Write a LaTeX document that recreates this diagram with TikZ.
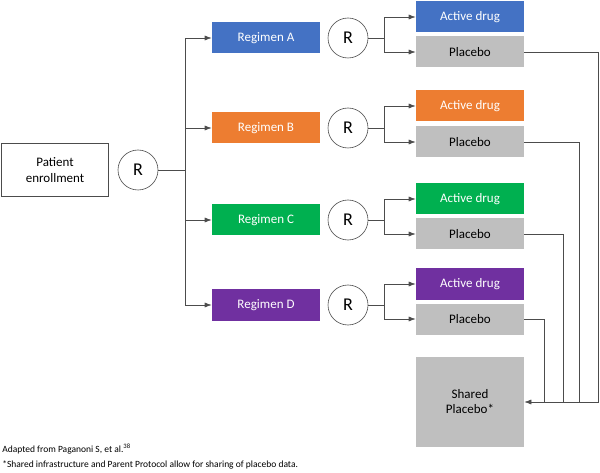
\documentclass[tikz,border=0pt]{standalone}
\usepackage{fontspec}
\setmainfont{Carlito}
\usetikzlibrary{arrows.meta}
\tikzset{every picture/.style={line width=0.75pt}}
\tikzset{
  box/.style={minimum width=108pt,minimum height=31pt,inner sep=0pt,font=\fontsize{13}{15}\selectfont},
  reg/.style={box,fill=#1,text=white},
  plac/.style={box,fill=gray!50},
  rnd/.style={circle,draw,minimum size=40pt,inner sep=0pt,font=\fontsize{18}{20}\selectfont},
  arr/.style={-{Latex[length=7pt,width=5pt]}}
}
\definecolor{cA}{HTML}{4472C4}
\definecolor{cB}{HTML}{ED7D31}
\definecolor{cC}{HTML}{00B050}
\definecolor{cD}{HTML}{7030A0}
\begin{document}
\begin{tikzpicture}[x=1pt,y=1pt,yscale=-1,xscale=1,line width=0.6pt,draw=black!70]
	\useasboundingbox (0,0) rectangle (600,473);

	% Enrollment
	\node [draw,minimum width=107pt,minimum height=53pt,align=center,font=\fontsize{13}{16}\selectfont] (enrol) at (55,170) {Patient\\enrollment};
	\node [rnd] (r0) at (138,170) {R};
	\coordinate (trunk) at (185,170);
	\draw (r0) -- (trunk);

	% Regimens
	\foreach \n/\c/\y/\ya/\yp in {A/cA/38/17/52, B/cB/128/106/142, C/cC/220/199/234, D/cD/305/284/319} {
		\node [reg=\c] (reg\n) at (266,\y) {Regimen \n};
		\node [rnd] (r\n) at (348,\y) {R};
		\node [reg=\c] (act\n) at (470,\ya) {Active drug};
		\node [plac] (pla\n) at (470,\yp) {Placebo};
		\draw [arr] (trunk) |- (reg\n);
		\draw (r\n) -- (384,\y) coordinate (br\n);
		\draw [arr] (br\n) |- (act\n);
		\draw [arr] (br\n) |- (pla\n);
	}

	% Shared placebo
	\node [plac,minimum height=90pt,align=center] (shared) at (470,402) {Shared\\Placebo*};
	\draw [arr] (plaA) -- (598,52) |- (shared);
	\draw (plaB) -| (579,402);
	\draw (plaC) -| (563,402);
	\draw (plaD) -| (544,402);

	% Notes
	\node [anchor=west,inner sep=0pt,font=\fontsize{9.5}{11}\selectfont] (src) at (2,449) {Adapted from Paganoni S, et al.\textsuperscript{38}};
	\node [anchor=west,inner sep=0pt,font=\fontsize{9.5}{11}\selectfont] (note) at (2,465) {*Shared infrastructure and Parent Protocol allow for sharing of placebo data.};
\end{tikzpicture}
\end{document}
